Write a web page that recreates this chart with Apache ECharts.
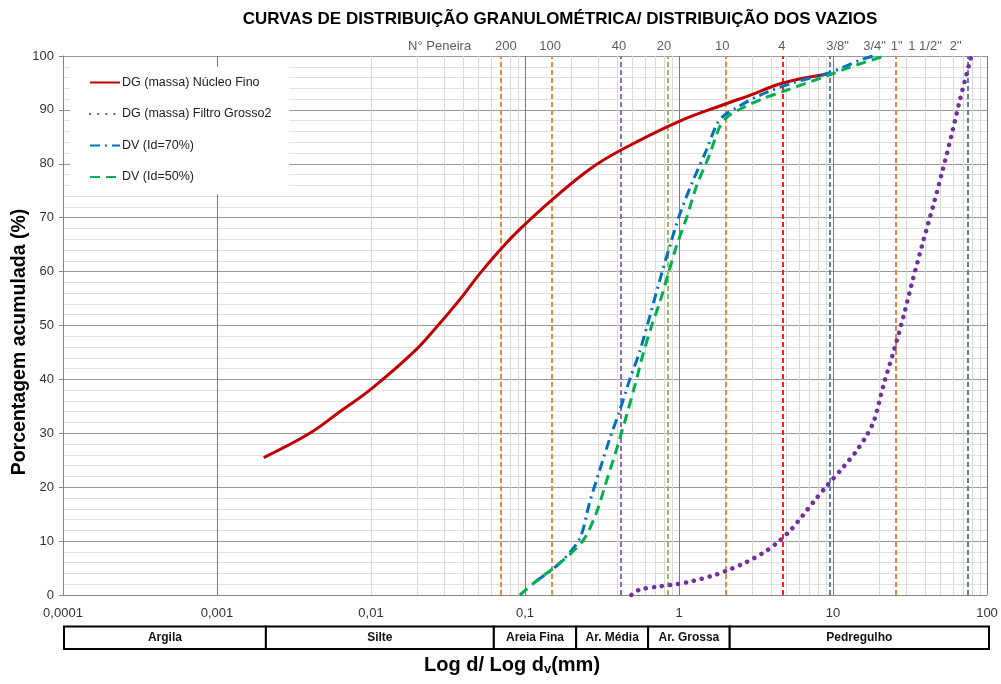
<!DOCTYPE html>
<html>
<head>
<meta charset="utf-8">
<script src="https://cdn.jsdelivr.net/npm/echarts@6/dist/echarts.min.js"></script>
<style>
html,body{margin:0;padding:0;background:#fff;}
#chart{width:1001px;height:684px;}
</style>
</head>
<body>
<div id="chart"></div>
<script>
// ---------- DATA ----------
const xTickLabels = ['0,0001', '0,001', '0,01', '0,1', '1', '10', '100'];
const yTicks = [0, 10, 20, 30, 40, 50, 60, 70, 80, 90, 100];

const seriesNames = ['DG (massa) Núcleo Fino', 'DG (massa) Filtro Grosso2', 'DV (Id=70%)', 'DV (Id=50%)'];

// DG (massa) Núcleo Fino : diameter (mm), % passing
const nucleoD = [0.00201, 0.0040, 0.00627, 0.0101, 0.0188, 0.0272, 0.0377, 0.0521, 0.0757, 0.0995, 0.151, 0.263, 0.423, 0.986, 2.0, 2.88, 4.73, 9.52];
const nucleoP = [25.5, 30.0, 34.0, 38.3, 45.0, 50.0, 54.8, 60.0, 65.3, 68.7, 73.4, 79.0, 82.6, 87.8, 91.1, 92.7, 95.0, 96.7];

// DG (massa) Filtro Grosso2
const filtroD = [0.491, 0.556, 0.750, 0.962, 1.23, 1.66, 2.0, 2.74, 3.51, 4.39, 5.37, 6.38, 7.53, 8.97, 11.8, 14.0, 16.3, 18.5, 21.3, 24.9, 28.8, 33.1, 38.4, 44.6, 51.3, 58.7, 66.5, 76.0, 79.2];
const filtroP = [0.0, 1.0, 1.6, 2.0, 2.6, 3.6, 4.4, 6.1, 7.8, 9.8, 12.2, 14.8, 17.4, 20.0, 23.9, 26.5, 29.3, 32.4, 39.0, 45.4, 51.9, 58.7, 65.5, 72.1, 78.6, 85.2, 91.7, 98.1, 100];

// DV (Id=70%)
const dv70D = [0.1186, 0.168, 0.226, 0.263, 0.305, 0.355, 0.412, 0.479, 0.556, 0.646, 0.769, 0.871, 1.01, 1.23, 1.51, 1.75, 1.93, 2.36, 3.34, 5.48, 9.52, 11.6, 14.9, 18.1];
const dv70P = [2.6, 5.9, 10.4, 17.2, 23.1, 29.0, 34.2, 40.0, 45.2, 51.7, 59.5, 64.7, 70.6, 76.8, 82.6, 87.2, 88.8, 90.4, 92.7, 95.0, 96.9, 97.9, 99.2, 100];

// DV (Id=50%)
const dv50D = [0.0925, 0.1186, 0.168, 0.238, 0.291, 0.338, 0.393, 0.455, 0.515, 0.583, 0.662, 0.750, 0.849, 0.962, 1.117, 1.297, 1.58, 1.84, 2.08, 2.60, 3.51, 4.71, 9.52, 12.8, 21.0];
const dv50P = [0, 2.6, 5.9, 10.1, 15.3, 21.1, 27.0, 33.2, 38.7, 44.6, 49.8, 54.3, 59.5, 64.7, 69.9, 75.8, 81.7, 86.9, 88.8, 90.4, 92.1, 93.4, 96.5, 97.9, 99.9];

// Sieves (N° Peneira)
const sieveLabels = ['N° Peneira', '200', '100', '40', '20', '10', '4', '3/8"', '3/4"', '1"', '1 1/2"', '2"'];
const sieveLabelPos = [0.0279, 0.0752, 0.1456, 0.408, 0.80, 1.91, 4.66, 10.7, 18.6, 25.9, 39.6, 62.7];
const sieveLineD = [0.075, 0.15, 0.42, 0.85, 2.0, 4.75, 9.5, 25.4, 75];

// Soil classes
const classNames = ['Argila', 'Silte', 'Areia Fina', 'Ar. Média', 'Ar. Grossa', 'Pedregulho'];
const classStart = [0.0001, 0.00204, 0.0614, 0.21, 0.615, 2.08];
const classEnd = [0.00204, 0.0614, 0.21, 0.615, 2.08, 100];

// ---------- STYLES ----------
const sieveColors = ['#F08A3C', '#F08A3C', '#8E6BB8', '#9BBB59', '#F08A3C', '#FF1E1E', '#5B7FB0', '#E8823A', '#5B7FB0'];
const FONT = '"Liberation Sans", Arial, sans-serif';

const zip = (a, b) => a.map((v, i) => [v, b[i]]);

// minor vertical grid lines (2..9 of each decade)
const minorX = [];
for (let e = -4; e < 2; e++) {
  for (let k = 2; k <= 9; k++) minorX.push(k * Math.pow(10, e));
}

const chart = echarts.init(document.getElementById('chart'), null, {renderer: 'canvas'});

const option = {
  animation: false,
  backgroundColor: '#fff',
  textStyle: {fontFamily: FONT},
  grid: [
    {left: 63, right: 14, top: 56, bottom: 89, containLabel: false},
    {left: 64, right: 12, top: 626.5, height: 22.5, containLabel: false}
  ],
  xAxis: [
    {
      gridIndex: 0, type: 'log', logBase: 10, min: 0.0001, max: 100,
      axisLine: {show: true, onZero: false, lineStyle: {color: '#868686', width: 1}},
      axisTick: {show: false},
      axisLabel: {
        margin: 12, fontSize: 13, color: '#333', fontFamily: FONT,
        formatter: v => xTickLabels[Math.round(Math.log10(v)) + 4]
      },
      splitLine: {show: true, lineStyle: {color: '#7a7a7a', width: 1}},
      minorTick: {show: false},
      minorSplitLine: {show: false}
    },
    {
      gridIndex: 1, type: 'log', logBase: 10, min: 0.0001, max: 100, show: false
    }
  ],
  yAxis: [
    {
      gridIndex: 0, type: 'value', min: 0, max: 100, interval: 10,
      axisLine: {show: true, lineStyle: {color: '#868686', width: 1}},
      axisTick: {show: true, length: 4, lineStyle: {color: '#868686'}},
      axisLabel: {margin: 9, fontSize: 13, color: '#333', fontFamily: FONT,
        formatter: v => yTicks.indexOf(v) >= 0 ? String(v) : ''},
      splitLine: {show: true, lineStyle: {color: '#999', width: 1}},
      minorTick: {show: false, splitNumber: 5},
      minorSplitLine: {show: true, lineStyle: {color: '#e0e0e0', width: 1}}
    },
    {gridIndex: 1, type: 'value', min: 0, max: 1, show: false}
  ],
  legend: {
    data: seriesNames,
    orient: 'vertical',
    left: 70, top: 67,
    padding: [9, 18, 11, 19],
    itemWidth: 30, itemHeight: 14, itemGap: 18.5,
    backgroundColor: '#fff',
    borderWidth: 0,
    itemStyle: {opacity: 0},
    textStyle: {fontSize: 12.5, color: '#222', fontFamily: FONT, padding: [0, 0, 0, -3]},
    selectedMode: false
  },
  graphic: [
    {type: 'text', x: 560, y: 19, style: {text: 'CURVAS DE DISTRIBUIÇÃO GRANULOMÉTRICA/ DISTRIBUIÇÃO DOS VAZIOS',
      align: 'center', verticalAlign: 'middle', fontSize: 17, fontWeight: 'bold', fontFamily: FONT, fill: '#000'}},
    {type: 'text', x: 20, y: 342, rotation: Math.PI / 2, style: {text: 'Porcentagem acumulada (%)',
      align: 'center', verticalAlign: 'middle', fontSize: 19.5, fontWeight: 'bold', fontFamily: FONT, fill: '#000'}},
    {type: 'text', x: 512, y: 665, style: {
      text: '{m|Log d/ Log d}{s|v}{m|(mm)}',
      align: 'center', verticalAlign: 'middle',
      rich: {
        m: {fontSize: 20, fontWeight: 'bold', fontFamily: FONT, color: '#000'},
        s: {fontSize: 13, fontWeight: 'bold', fontFamily: FONT, color: '#000', padding: [9, 0, 0, 0]}
      }}}
  ],
  series: [
    {
      name: 'minorGrid', type: 'line', xAxisIndex: 0, yAxisIndex: 0, data: [], silent: true, z: 1,
      markLine: {silent: true, symbol: ['none', 'none'], label: {show: false},
        lineStyle: {color: '#d9d9d9', type: 'solid', width: 1},
        animation: false,
        data: minorX.map(v => ({xAxis: v}))}
    },
    {
      name: 'sieves', type: 'line', xAxisIndex: 0, yAxisIndex: 0, data: [], silent: true, z: 2,
      markLine: {silent: true, symbol: ['none', 'none'], label: {show: false}, animation: false,
        data: sieveLineD.map((v, i) => ({xAxis: v, lineStyle: {color: sieveColors[i], type: [5, 3], width: 2}}))}
    },
    {
      name: 'sieveLabels', type: 'scatter', xAxisIndex: 0, yAxisIndex: 0, silent: true, symbolSize: 0,
      clip: false,
      data: sieveLabelPos.map((x, i) => ({value: [x, 100], label: {formatter: sieveLabels[i]}})),
      label: {show: true, position: 'top', distance: 3, fontSize: 13, color: '#333', fontFamily: FONT}
    },
    {
      name: seriesNames[0], type: 'line', data: zip(nucleoD, nucleoP), smooth: 0.4,
      showSymbol: false, symbol: 'none', z: 5,
      lineStyle: {color: '#C00000', width: 3}, itemStyle: {color: '#C00000'}
    },
    {
      name: seriesNames[1], type: 'line', data: zip(filtroD, filtroP), smooth: 0.3,
      showSymbol: false, symbol: 'none', z: 5,
      lineStyle: {color: '#7030A0', width: 4.5, type: [0.1, 8], cap: 'round'}, itemStyle: {color: '#7030A0'}
    },
    {
      name: seriesNames[2], type: 'line', data: zip(dv70D, dv70P), smooth: 0.3,
      showSymbol: false, symbol: 'none', z: 5,
      lineStyle: {color: '#0070C0', width: 3, type: [10, 5, 2, 5]}, itemStyle: {color: '#0070C0'}
    },
    {
      name: seriesNames[3], type: 'line', data: zip(dv50D, dv50P), smooth: 0.3,
      showSymbol: false, symbol: 'none', z: 5,
      lineStyle: {color: '#00B050', width: 3, type: [10, 6]}, itemStyle: {color: '#00B050'}
    },
    {
      name: 'classes', type: 'custom', xAxisIndex: 1, yAxisIndex: 1, silent: true,
      data: classStart.map((s, i) => [s, classEnd[i]]),
      encode: {x: [0, 1]},
      renderItem: function (params, api) {
        const a = api.coord([api.value(0), 1]);
        const b = api.coord([api.value(1), 0]);
        return {
          type: 'group',
          children: [
            {type: 'rect', shape: {x: a[0], y: a[1], width: b[0] - a[0], height: b[1] - a[1]},
              style: {fill: '#fff', stroke: '#000', lineWidth: 2}},
            {type: 'text', style: {text: classNames[params.dataIndex], x: (a[0] + b[0]) / 2, y: (a[1] + b[1]) / 2,
              align: 'center', verticalAlign: 'middle', fontSize: 12, fontWeight: 'bold', fontFamily: FONT, fill: '#111'}}
          ]
        };
      }
    }
  ]
};
chart.setOption(option);
</script>
</body>
</html>
